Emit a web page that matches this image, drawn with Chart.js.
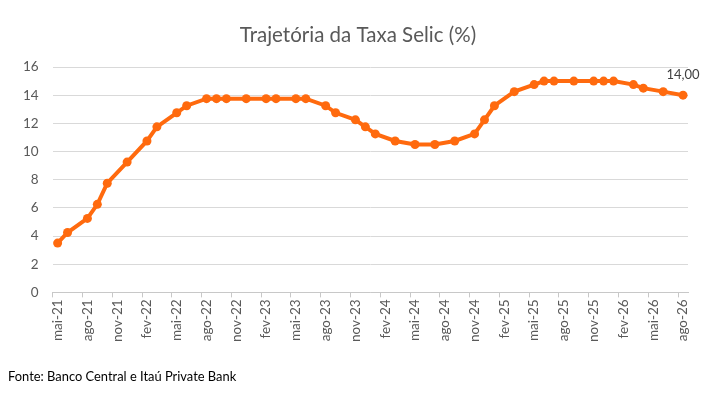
<!DOCTYPE html>
<html>
<head>
<meta charset="utf-8">
<script src="https://cdn.jsdelivr.net/npm/chart.js@4/dist/chart.umd.min.js"></script>
<style>
  html,body{margin:0;padding:0;background:#fff;}
  #wrap{position:relative;width:710px;height:405px;}
  #fonte{position:absolute;left:8px;top:368px;font:12.9px 'Liberation Sans Narrow','Lato',sans-serif;color:#000;}
</style>
</head>
<body>
<div id="wrap">
  <canvas id="chartSelic" width="710" height="405"></canvas>
  <div id="fonte">Fonte: Banco Central e Itaú Private Bank</div>
</div>
<script>
// Eixo mensal (mai-21 a ago-26)
const mesesAbrev = ['jan','fev','mar','abr','mai','jun','jul','ago','set','out','nov','dez'];
const anos = ['21','22','23','24','25','26'];
// Reuniões do Copom / projeção: mês e taxa Selic (%)
const reunioes = ['mai-21','jun-21','ago-21','set-21','out-21','dez-21','fev-22','mar-22','mai-22','jun-22',
  'ago-22','set-22','out-22','dez-22','fev-23','mar-23','mai-23','jun-23','ago-23','set-23',
  'nov-23','dez-23','jan-24','mar-24','mai-24','jul-24','set-24','nov-24','dez-24','jan-25',
  'mar-25','mai-25','jun-25','jul-25','set-25','nov-25','dez-25','jan-26','mar-26','abr-26',
  'jun-26','ago-26'];
const selic = [3.50,4.25,5.25,6.25,7.75,9.25,10.75,11.75,12.75,13.25,
  13.75,13.75,13.75,13.75,13.75,13.75,13.75,13.75,13.25,12.75,
  12.25,11.75,11.25,10.75,10.50,10.50,10.75,11.25,12.25,13.25,
  14.25,14.75,15.00,15.00,15.00,15.00,15.00,15.00,14.75,14.50,
  14.25,14.00];
const yTicks = [0,2,4,6,8,10,12,14,16];
const titulo = 'Trajetória da Taxa Selic (%)';

(function(){
  'use strict';
  const P = {orange:'#ff6a0e', gray:'#595959', grid:'#d9d9d9', axis:'#c8c8c8'};
  Chart.defaults.font.family = 'Lato, "Open Sans", sans-serif';
  Chart.defaults.color = P.gray;

  const meses = [];
  anos.forEach(a => mesesAbrev.forEach(m => meses.push(m+'-'+a)));
  const labels = meses.slice(meses.indexOf('mai-21'), meses.indexOf('ago-26')+1);
  const serie = labels.map(l => { const i = reunioes.indexOf(l); return i >= 0 ? selic[i] : null; });

  // título centrado na figura e rótulo do último ponto
  const textos = {
    id:'textos',
    afterDatasetsDraw(chart){
      const meta = chart.getDatasetMeta(0);
      const pt = meta.data[meta.data.length-1];
      const ctx = chart.ctx;
      ctx.save();
      ctx.textAlign = 'center';
      ctx.textBaseline = 'middle';
      ctx.font = '20.5px Lato, sans-serif';
      ctx.fillStyle = P.gray;
      ctx.fillText(titulo, 358, 35);
      ctx.font = '13px Lato, sans-serif';
      ctx.fillStyle = '#404040';
      ctx.fillText(selic[selic.length-1].toFixed(2).replace('.',','), pt.x, pt.y-20);
      ctx.restore();
    }
  };

  new Chart(document.getElementById('chartSelic'), {type:'line', data:{
    labels: labels,
    datasets:[{label:'Selic (%)', data: serie, spanGaps:true, borderColor:P.orange, backgroundColor:P.orange,
      borderWidth:4, pointRadius:4.5, pointBorderWidth:0, pointBackgroundColor:P.orange, tension:0}]},
    options:{responsive:false, animation:false, maintainAspectRatio:false,
      layout:{padding:{left:9, right:22, top:67, bottom:61}},
      plugins:{legend:{display:false}, tooltip:{enabled:false}, title:{display:false}},
      scales:{
        x:{offset:true, grid:{offset:true, drawOnChartArea:false, drawTicks:true, tickLength:5,
              color: c => (c.index % 3 === 0 ? P.axis : 'rgba(0,0,0,0)')},
           border:{color:P.axis},
           ticks:{autoSkip:false, minRotation:90, maxRotation:90, padding:2, font:{size:13.5},
              callback:(v,i) => (i % 3 === 0 ? labels[i] : '')}},
        y:{min:0, max:16, afterBuildTicks: ax => { ax.ticks = yTicks.map(v => ({value:v})); },
           grid:{color:P.grid, drawTicks:false}, border:{display:false},
           ticks:{padding:14, font:{size:13.5}}}
      }}, plugins:[textos]});
})();
</script>
</body>
</html>
